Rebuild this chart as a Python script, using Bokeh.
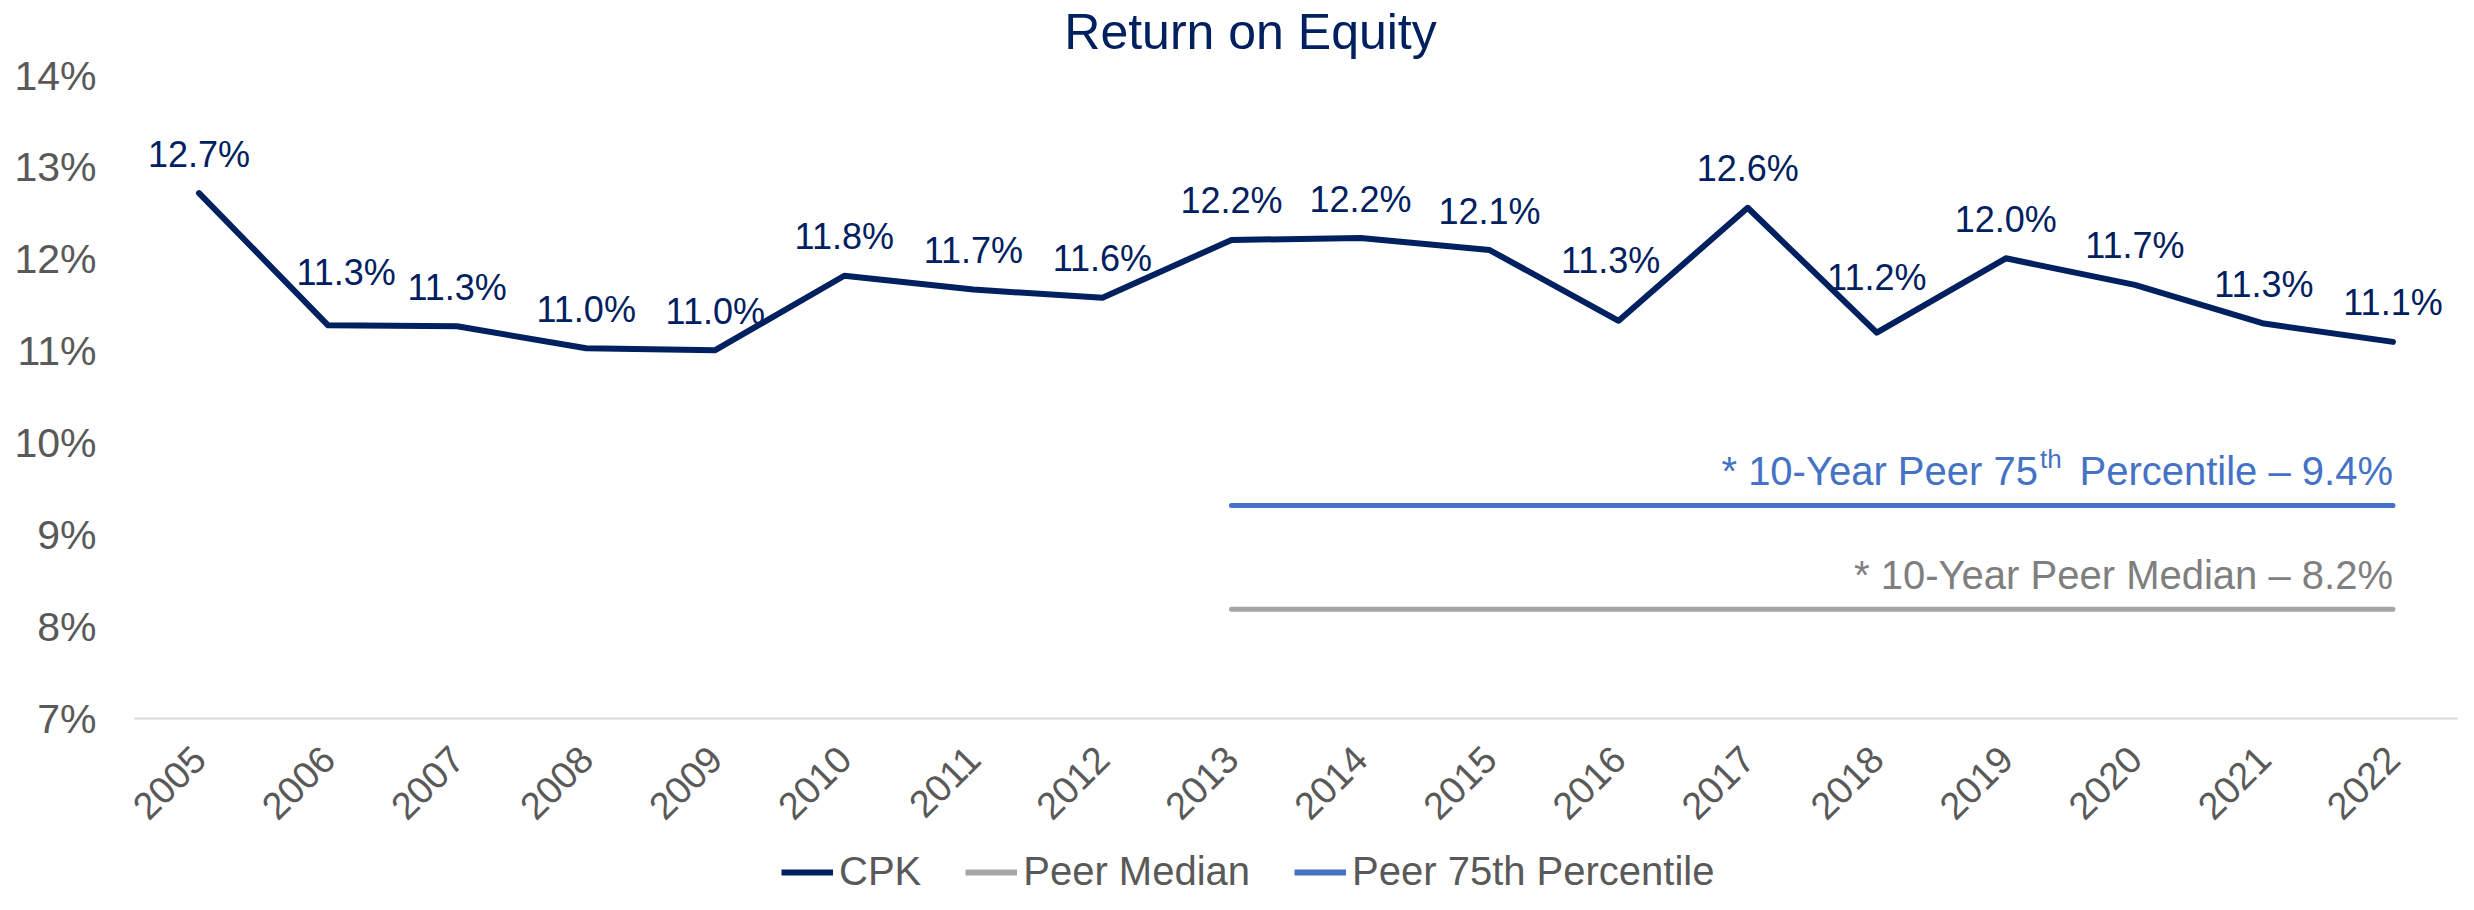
import math
from bokeh.plotting import figure
from bokeh.layouts import column
from bokeh.models import (ColumnDataSource, FixedTicker, PrintfTickFormatter, Legend,
                          LegendItem, Range1d, FactorRange)
from bokeh.core.properties import value
from bokeh.embed import file_html
from bokeh.resources import INLINE

# ---------------- data ----------------
years = ["2005", "2006", "2007", "2008", "2009", "2010", "2011", "2012", "2013",
         "2014", "2015", "2016", "2017", "2018", "2019", "2020", "2021", "2022"]
cpk_roe = [12.72, 11.28, 11.27, 11.03, 11.01, 11.82, 11.67, 11.58, 12.21,
           12.23, 12.10, 11.33, 12.56, 11.20, 12.01, 11.72, 11.30, 11.10]
cpk_labels = ["12.7%", "11.3%", "11.3%", "11.0%", "11.0%", "11.8%", "11.7%", "11.6%", "12.2%",
              "12.2%", "12.1%", "11.3%", "12.6%", "11.2%", "12.0%", "11.7%", "11.3%", "11.1%"]
peer_years = ["2013", "2014", "2015", "2016", "2017", "2018", "2019", "2020", "2021", "2022"]
peer_median = [8.19, 8.19, 8.19, 8.19, 8.19, 8.19, 8.19, 8.19, 8.19, 8.19]
peer_75th = [9.32, 9.32, 9.32, 9.32, 9.32, 9.32, 9.32, 9.32, 9.32, 9.32]
y_ticks = [7, 8, 9, 10, 11, 12, 13, 14]
title_text = "Return on Equity"
legend_labels = ["CPK", "Peer Median", "Peer 75th Percentile"]

# ---------------- styles ----------------
FONT = "Liberation Sans"
NAVY = "#002060"
BLUE = "#4472C4"
GRAY_LINE = "#A5A5A5"
GRAY_TEXT = "#7F7F7F"
AXIS_TEXT = "#595959"
BASE_FIX = -13          # empirical baseline correction for svg text (px)
Y_TOP = 14 + 75 / (643 / 7)   # extra headroom above 14% for the title

# per-label pixel nudges (layout only)
label_dx = [0, 18, 0, 0, 0, 0, 0, 0, 0, 0, 0, -8, 0, 0, 0, 0, 0, 0]
label_dy = [-26, -40, -26, -26, -26, -26, -26, -26, -26,
            -26, -26, -47, -26, -42, -26, -26, -26, -26]
label_dy = [d + BASE_FIX for d in label_dy]

src = ColumnDataSource(dict(year=years, roe=cpk_roe, label=cpk_labels, dx=label_dx, dy=label_dy))

p = figure(frame_width=2323, frame_height=718,
           x_range=FactorRange(*years), y_range=Range1d(7, Y_TOP),
           output_backend="svg", toolbar_location=None,
           min_border_left=134, min_border_right=1, min_border_top=0, min_border_bottom=130)
p.outline_line_color = None
p.xgrid.grid_line_color = None
p.ygrid.grid_line_color = None
p.background_fill_color = "white"
p.border_fill_color = "white"

# y axis
p.yaxis.ticker = FixedTicker(ticks=y_ticks)
p.yaxis.formatter = PrintfTickFormatter(format="%d%%")
p.yaxis.axis_line_color = None
p.yaxis.major_tick_line_color = None
p.yaxis.minor_tick_line_color = None
p.yaxis.major_tick_out = 0
p.yaxis.major_tick_in = 0
p.yaxis.minor_tick_out = 0
p.yaxis.major_label_text_font = FONT
p.yaxis.major_label_text_font_size = "41px"
p.yaxis.major_label_text_color = AXIS_TEXT
p.yaxis.major_label_standoff = 38

# x axis
p.xaxis.axis_line_color = "#D9D9D9"
p.xaxis.axis_line_width = 2
p.xaxis.major_tick_line_color = None
p.xaxis.minor_tick_line_color = None
p.xaxis.major_tick_out = 0
p.xaxis.major_tick_in = 0
p.xaxis.minor_tick_out = 0
p.xaxis.major_label_orientation = math.pi / 4
p.xaxis.major_label_text_font = FONT
p.xaxis.major_label_text_font_size = "38px"
p.xaxis.major_label_text_color = AXIS_TEXT
p.xaxis.major_label_standoff = 34

# title (drawn in the headroom above 14%)
p.text(x=["2014"], y=[y_ticks[-1]], text=[title_text], x_offset=-110, y_offset=-31 + BASE_FIX,
       text_align="center", text_baseline="alphabetic", text_font=value(FONT),
       text_font_size="50px", text_color=NAVY)

# lines
cpk_r = p.line(x="year", y="roe", source=src, line_color=NAVY, line_width=6,
               line_join="round", line_cap="round")
med_r = p.line(x=peer_years, y=peer_median, line_color=GRAY_LINE, line_width=5, line_cap="round")
p75_r = p.line(x=peer_years, y=peer_75th, line_color=BLUE, line_width=5, line_cap="round")

# data labels
p.text(x="year", y="roe", text="label", source=src, x_offset="dx", y_offset="dy",
       text_align="center", text_baseline="alphabetic", text_font=value(FONT),
       text_font_size="36px", text_color=NAVY)

# annotations for peer lines
last = [peer_years[-1]]
p.text(x=last, y=[peer_75th[-1]], text=["Percentile \u2013 9.4%"], x_offset=0, y_offset=-21 + BASE_FIX,
       text_align="right", text_baseline="alphabetic", text_font=value(FONT),
       text_font_size="40px", text_color=BLUE)
p.text(x=last, y=[peer_75th[-1]], text=["th"], x_offset=-353, y_offset=-33 + BASE_FIX,
       text_align="left", text_baseline="alphabetic", text_font=value(FONT),
       text_font_size="26px", text_color=BLUE)
p.text(x=last, y=[peer_75th[-1]], text=["* 10-Year Peer 75"], x_offset=-355, y_offset=-21 + BASE_FIX,
       text_align="right", text_baseline="alphabetic", text_font=value(FONT),
       text_font_size="40px", text_color=BLUE)
p.text(x=last, y=[peer_median[-1]], text=["* 10-Year Peer Median \u2013 8.2%"], x_offset=0,
       y_offset=-21 + BASE_FIX,
       text_align="right", text_baseline="alphabetic", text_font=value(FONT),
       text_font_size="40px", text_color=GRAY_TEXT)

# legend strip below the chart (its frame is aligned with the chart frame by the column)
lf = figure(width=2458, height=46, x_range=Range1d(0, 1), y_range=Range1d(0, 1),
            x_axis_type=None, y_axis_type=None, output_backend="svg", toolbar_location=None,
            min_border=0)
lf.outline_line_color = None
lf.background_fill_color = "white"
lf.border_fill_color = "white"
lg_cpk = lf.line(x=[-3, -2], y=[-3, -3], line_color=NAVY, line_width=6)
lg_med = lf.line(x=[-3, -2], y=[-3, -3], line_color=GRAY_LINE, line_width=6)
lg_p75 = lf.line(x=[-3, -2], y=[-3, -3], line_color=BLUE, line_width=6)
legend = Legend(items=[LegendItem(label=legend_labels[0], renderers=[lg_cpk]),
                       LegendItem(label=legend_labels[1], renderers=[lg_med]),
                       LegendItem(label=legend_labels[2], renderers=[lg_p75])],
                orientation="horizontal", location=(647, 0),
                label_text_font=FONT, label_text_font_size="40px", label_text_color=AXIS_TEXT,
                glyph_width=52, glyph_height=30, label_standoff=6, spacing=44, padding=0,
                margin=0, border_line_color=None, background_fill_alpha=0)
lf.add_layout(legend)

layout = column(p, lf, spacing=0)
open("out.html", "w").write(file_html(layout, INLINE))
